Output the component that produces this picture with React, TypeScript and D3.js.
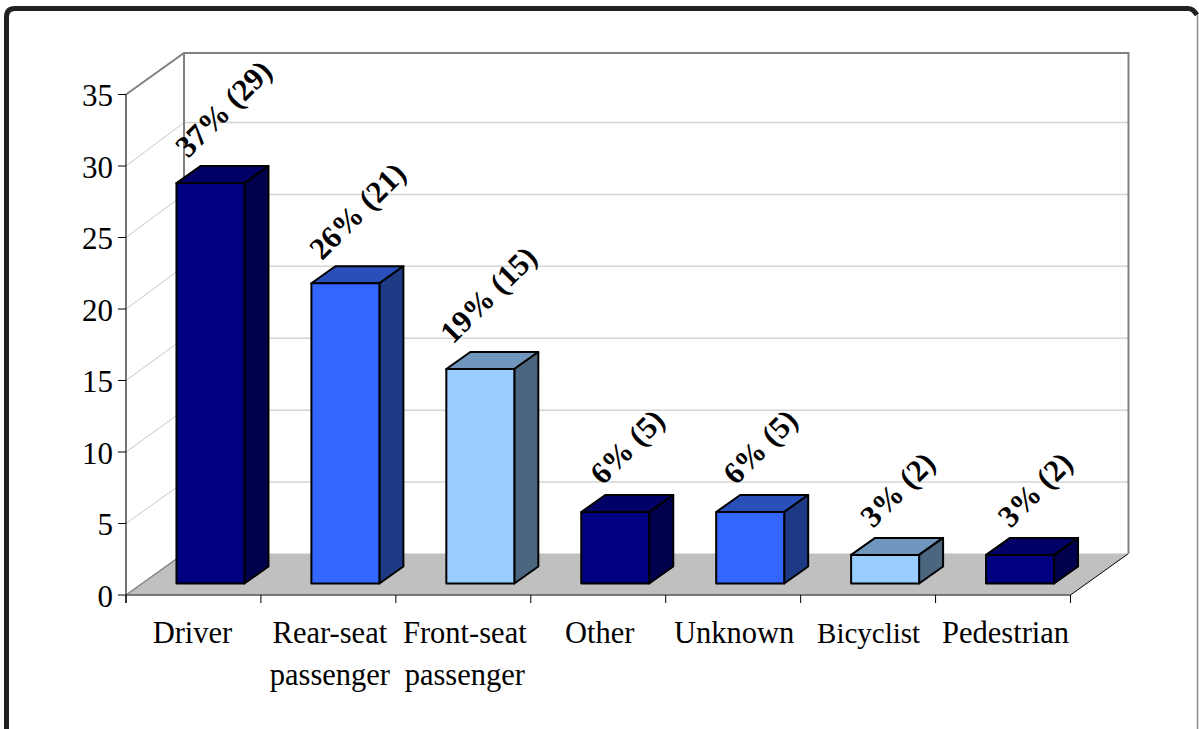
import React from "react";
import * as d3 from "d3";

const categories = ["Driver", "Rear-seat passenger", "Front-seat passenger", "Other", "Unknown", "Bicyclist", "Pedestrian"];
const values = [28, 21, 15, 5, 5, 2, 2];
const dataLabels = ["37% (29)", "26% (21)", "19% (15)", "6% (5)", "6% (5)", "3% (2)", "3% (2)"];
const yTicks = [0, 5, 10, 15, 20, 25, 30, 35];
const frontFill = ["#000080", "#3366ff", "#99ccff"];
const topFill = ["#000066", "#2850b8", "#7096bd"];
const sideFill = ["#00004d", "#1f3a85", "#4d6680"];

const x = d3.scaleBand<string>().domain(categories).range([126, 1070.5]);
const y = d3.scaleLinear().domain([0, 35]).range([595, 94.5]);
const yBack = d3.scaleLinear().domain([0, 30]).range([554, 122.5]);
const wallDx = 58, wallDy = -41.5;
const barDx = 24, barDy = -17;
const barW = 68;
const floorDx = 17, floorDy = -12;
const font = "'Liberation Serif', 'Times New Roman', serif";

const wrap: Record<string, string[]> = {
  "Rear-seat passenger": ["Rear-seat", "passenger"],
  "Front-seat passenger": ["Front-seat", "passenger"],
};
const labelShift = [-1, 1.5, 1.5, 1.5, 1, 0.5, 2.5];
const dataLabelDx = [-28.5, -29.5, -33.5, -29.5, -31.5, -29, -26.5];
const dataLabelDy = [-10, -8, -10, -1, -1, -1, -1];

export default function App() {
  const y0 = y(0), yTop = y(35);
  const xL = x.range()[0], xR = x.range()[1];
  const line = d3.line();
  return (
    <svg width={1199} height={729} style={{ position: "absolute", left: 0, top: 0, background: "#fff" }} fontFamily={font}>
      <path d="M6.5 729 V17 Q6.5 8.5 15 8.5 H1188 Q1193 8.5 1197 15" fill="none" stroke="#231f20" strokeWidth={5} />
      <line x1={1197.5} x2={1197.5} y1={15} y2={729} stroke="#8a8a8a" strokeWidth={1.5} />

      {/* floor */}
      <path d={`M${xL} ${y0} L${xL + wallDx} ${y0 + wallDy} H${xR + wallDx} L${xR} ${y0} Z`} fill="#c0c0c0" />
      <path d={line([[xR, y0], [xR + wallDx, y0 + wallDy]]) ?? ""} stroke="#000" fill="none" />
      <path d={line([[xL, y0], [xL + wallDx, y0 + wallDy]]) ?? ""} stroke="#808080" fill="none" strokeWidth={1.5} />
      <line x1={xL} x2={xR} y1={y0} y2={y0} stroke="#555" strokeWidth={1.5} />

      {/* gridlines */}
      {yTicks.filter((t) => t > 0 && t < 35).map((t) => (
        <g key={t} fill="none">
          <line x1={xL} y1={y(t)} x2={xL + wallDx} y2={yBack(t)} stroke="#c8c8c8" />
          <line x1={xL + wallDx} y1={yBack(t)} x2={xR + wallDx} y2={yBack(t)} stroke="#d4d4d4" strokeWidth={1.5} />
        </g>
      ))}
      {/* walls */}
      <path d={`M${xL} ${yTop} L${xL + wallDx} ${yTop + wallDy} H${xR + wallDx} V${y0 + wallDy}`} fill="none" stroke="#808080" strokeWidth={2} />
      <line x1={xL + wallDx} x2={xL + wallDx} y1={yTop + wallDy} y2={y0 + wallDy} stroke="#808080" strokeWidth={2} />
      <line x1={xL} x2={xL} y1={yTop} y2={y0 + 8} stroke="#444" strokeWidth={1.5} />

      {/* axis ticks */}
      {yTicks.map((t) => (
        <g key={t}>
          <line x1={xL - 8} x2={xL} y1={y(t)} y2={y(t)} stroke="#000" />
          <text x={xL - 13} y={y(t) + 11.5} textAnchor="end" fontSize={31} fill="#000">{t}</text>
        </g>
      ))}
      {[...categories.map((c) => x(c) as number), xR].map((px, i) => (
        <line key={i} x1={px} x2={px} y1={y0} y2={y0 + 8} stroke="#000" />
      ))}

      {/* bars */}
      {categories.map((c, i) => {
        const cx = (x(c) as number) + x.bandwidth() / 2 + floorDx;
        const l = cx - barW / 2, r = cx + barW / 2;
        const b = y0 + floorDy + 0.5;
        const t = b - (y0 - y(values[i]));
        const k = i % 3;
        return (
          <g key={c} stroke="#000" strokeWidth={2} strokeLinejoin="round">
            <path d={`M${l} ${t} L${l + barDx} ${t + barDy} H${r + barDx} L${r} ${t} Z`} fill={topFill[k]} />
            <path d={`M${r} ${t} L${r + barDx} ${t + barDy} V${b + barDy} L${r} ${b} Z`} fill={sideFill[k]} />
            <rect x={l} y={t} width={barW} height={b - t} fill={frontFill[k]} />
          </g>
        );
      })}

      {/* data labels */}
      {categories.map((c, i) => {
        const cx = (x(c) as number) + x.bandwidth() / 2 + floorDx + barDx / 2 + 1 + dataLabelDx[i];
        const b = y0 + floorDy + 0.5;
        const t = b - (y0 - y(values[i]));
        const ay = t + barDy - 6 + dataLabelDy[i];
        return (
          <text key={c} transform={`translate(${cx + 2},${ay}) rotate(-45)`} textAnchor="middle"
            fontSize={31} fontWeight="bold" fill="#000" dx={48}>
            {dataLabels[i]}
          </text>
        );
      })}

      {/* category labels */}
      {categories.map((c, i) => {
        const cx = (x(c) as number) + x.bandwidth() / 2;
        const lines = wrap[c] ?? [c];
        return (
          <text key={c} textAnchor="middle" fontSize={c === "Bicyclist" ? 29 : 30.5} fill="#000">
            {lines.map((s, j) => (
              <tspan key={j} x={cx + labelShift[i]} y={643 + j * 42}>{s}</tspan>
            ))}
          </text>
        );
      })}
    </svg>
  );
}
